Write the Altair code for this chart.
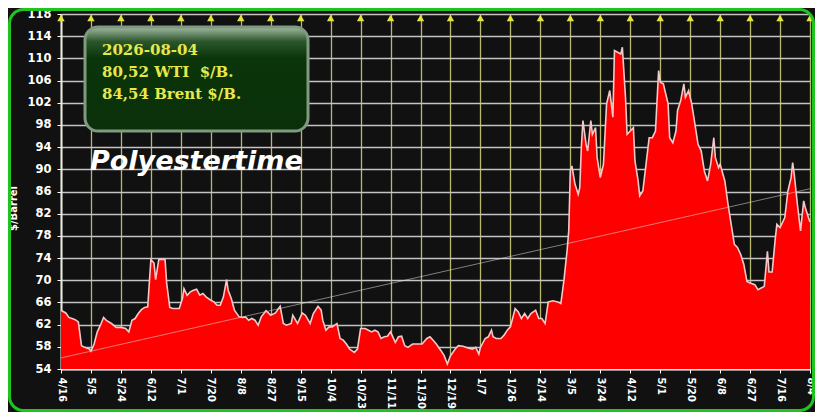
import altair as alt
import pandas as pd

# ---- data ----
start_date = "2025-04-16"
end_date = "2026-08-04"
tick_dates = ["2025-04-16", "2025-05-05", "2025-05-24", "2025-06-12", "2025-07-01",
              "2025-07-20", "2025-08-08", "2025-08-27", "2025-09-15", "2025-10-04",
              "2025-10-23", "2025-11-11", "2025-11-30", "2025-12-19", "2026-01-07",
              "2026-01-26", "2026-02-14", "2026-03-05", "2026-03-24", "2026-04-12",
              "2026-05-01", "2026-05-20", "2026-06-08", "2026-06-27", "2026-07-16",
              "2026-08-04"]
y_ticks = list(range(54, 119, 4))

day_offsets = [0, 3, 5, 7, 9, 11, 13, 15, 18, 19, 21, 23, 25, 27, 29, 32, 35, 38, 41, 43,
               45, 47, 49, 51, 53, 55, 57, 59, 60, 62, 64, 66, 67, 69, 71, 75, 77, 78, 80, 82,
               84, 86, 88, 90, 92, 95, 97, 99, 101, 103, 105, 106, 108, 110, 113, 115, 117, 119, 121, 123,
               125, 127, 130, 133, 136, 139, 141, 143, 146, 147, 150, 153, 155, 158, 160, 163, 165, 166, 168, 170,
               172, 175, 177, 179, 181, 183, 186, 188, 190, 193, 195, 197, 199, 201, 203, 205, 207, 209, 212, 214,
               216, 218, 220, 223, 226, 229, 232, 234, 236, 238, 241, 243, 245, 247, 250, 252, 255, 258, 261, 263,
               265, 266, 269, 271, 273, 274, 276, 279, 281, 283, 285, 288, 290, 292, 294, 296, 298, 301, 303, 305,
               307, 309, 312, 315, 317, 319, 321, 322, 323, 324, 326, 328, 329, 330, 331, 333, 334, 336, 337, 339,
               340, 342, 344, 346, 347, 348, 350, 351, 353, 355, 356, 358, 359, 361, 363, 364, 366, 367, 369, 371,
               373, 375, 377, 379, 380, 382, 385, 386, 388, 390, 391, 393, 395, 396, 398, 400, 402, 404, 406, 408,
               410, 412, 414, 415, 417, 418, 421, 423, 425, 427, 429, 431, 433, 435, 437, 440, 442, 444, 446, 448,
               449, 451, 453, 454, 456, 459, 461, 463, 464, 465, 467, 469, 471, 472, 474, 475]
prices = [64.6, 64.1, 63.3, 63.1, 62.9, 62.5, 58.2, 57.9, 57.6, 57.2, 58.5, 60.7, 61.9, 63.3, 62.7, 62.2, 61.5, 61.5, 61.3, 60.7,
          62.8, 63.1, 64.0, 64.7, 65.1, 65.2, 73.7, 73.1, 70.1, 73.7, 73.8, 73.7, 69.5, 65.1, 64.9, 64.9, 66.7, 68.5, 67.3, 67.9,
          68.2, 68.4, 67.3, 67.6, 67.0, 66.4, 66.1, 65.5, 65.5, 67.0, 70.1, 68.2, 66.7, 64.6, 63.4, 63.3, 63.4, 62.8, 63.1, 62.8,
          61.9, 63.4, 64.5, 63.7, 64.1, 65.3, 62.2, 61.9, 62.2, 63.7, 62.2, 64.1, 63.7, 62.2, 64.0, 65.3, 64.6, 62.8, 61.0, 61.6,
          61.6, 62.2, 59.5, 59.2, 58.5, 57.6, 57.0, 57.6, 61.3, 61.3, 61.0, 60.7, 61.0, 60.7, 59.5, 59.8, 59.9, 60.7, 58.8, 59.8,
          59.9, 58.2, 57.9, 58.5, 58.5, 58.5, 59.5, 59.8, 59.2, 58.5, 57.3, 56.4, 54.9, 56.4, 57.6, 58.2, 58.1, 57.8, 57.6, 57.9,
          56.7, 57.9, 59.5, 59.8, 61.0, 59.8, 59.5, 59.5, 60.1, 61.0, 61.6, 64.9, 64.3, 63.1, 64.0, 63.1, 64.0, 64.6, 63.1, 63.1,
          62.2, 66.1, 66.3, 66.1, 65.8, 70.1, 75.5, 78.9, 89.7, 90.6, 87.3, 85.5, 86.7, 94.0, 98.8, 94.5, 93.3, 98.8, 96.3, 97.5,
          92.1, 88.5, 90.9, 101.8, 103.0, 104.2, 99.4, 111.4, 111.1, 110.8, 112.0, 103.0, 96.3, 96.9, 97.5, 91.5, 87.9, 85.2, 86.1, 90.9,
          95.7, 95.7, 96.9, 107.8, 105.7, 105.4, 101.8, 95.7, 94.8, 96.9, 100.6, 102.4, 105.4, 103.0, 104.2, 101.8, 98.2, 94.5, 93.3, 89.7,
          87.9, 90.9, 95.7, 92.1, 90.3, 90.9, 87.9, 83.7, 80.1, 76.5, 75.9, 74.7, 72.9, 69.8, 69.5, 69.2, 68.3, 68.6, 68.9, 75.2,
          71.5, 71.5, 77.6, 80.1, 79.5, 81.3, 86.1, 88.5, 91.2, 89.1, 83.7, 78.9, 84.3, 83.1, 81.3, 80.5]

# straight trend line (value at start and at end)
trend_dates = [start_date, end_date]
trend_values = [56.0, 86.5]

info_lines = ["2026-08-04", "80,52 WTI\u00a0 $/B.", "84,54 Brent $/B."]
brand = "Polyestertime"
y_title = "$/Barrel"

# ---- tables ----
t0 = pd.Timestamp(start_date)
df = pd.DataFrame({"day": day_offsets, "price": prices})
df["date"] = [(t0 + pd.Timedelta(days=d)).strftime("%Y-%m-%d") for d in day_offsets]
trend_df = pd.DataFrame({"date": trend_dates, "price": trend_values})

def ms(s):
    return int(pd.Timestamp(s, tz="UTC").value // 10**6)

tick_ms = [ms(s) for s in tick_dates]
x_domain = [ms(start_date), ms(end_date)]

W, H = 749, 355
PAD = {"left": 53, "top": 6, "right": 5, "bottom": 43}

x_scale = alt.Scale(type="utc", domain=x_domain, nice=False)
y_scale = alt.Scale(domain=[54, 118], nice=False, zero=False)

x_axis = alt.Axis(values=tick_ms, tickCount=60, labelExpr="utcFormat(datum.value, '%-m/%-d')",
                  labelAngle=90, labelAlign="left", labelBaseline="middle",
                  labelColor="white", labelFont="DejaVu Sans", labelFontWeight="bold",
                  labelFontSize=10, labelPadding=4, labelOverlap=False, labelFlush=False,
                  tickColor="white", tickSize=4,
                  domainColor="#e8e8e8", domainWidth=2, grid=True,
                  gridColor="#b8b86a", gridWidth=1.3, title=None)
y_axis = alt.Axis(values=y_ticks, tickCount=40, labelColor="white", labelFont="DejaVu Sans",
                  labelFontWeight="bold", labelFontSize=11.5, labelPadding=6,
                  labelOverlap=False, labelFlush=False,
                  tickColor="white", tickSize=4, domainColor="#e8e8e8", domainWidth=2,
                  grid=True, gridColor="#c4c4c4", gridWidth=1.3,
                  titleColor="white", titleFont="DejaVu Sans", titleFontWeight="bold",
                  titleFontSize=10, titleX=-48, titleY=194, titleBaseline="middle", titleAngle=270)

area = alt.Chart(df).mark_area(
    color="#ff0000", line={"color": "#f2c8c8", "strokeWidth": 1.6}, opacity=1
).encode(
    x=alt.X("date:T", scale=x_scale, axis=x_axis),
    y=alt.Y("price:Q", scale=y_scale, axis=y_axis, title=y_title),
    y2=alt.datum(54),
)

trend = alt.Chart(trend_df).mark_line(color="#d8d8d8", strokeWidth=1, opacity=0.55).encode(
    x="date:T", y="price:Q"
)

tri = alt.Chart(pd.DataFrame({"t": tick_ms})).mark_point(
    shape="triangle-up", filled=True, color="#e4e43c", size=55, opacity=1
).encode(x="t:T", y=alt.value(4))

one = pd.DataFrame({"k": [0]})
box = alt.Chart(one).mark_rect(
    cornerRadius=13, stroke="#7f9a7f", strokeWidth=3,
    color=alt.Gradient(gradient="linear", x1=0, y1=0, x2=0, y2=1,
                       stops=[alt.GradientStop(offset=0, color="#a3bba3"),
                              alt.GradientStop(offset=0.14, color="#2b552b"),
                              alt.GradientStop(offset=0.3, color="#0b350b"),
                              alt.GradientStop(offset=1, color="#0a300a")])
).encode(x=alt.value(24), x2=alt.value(247), y=alt.value(13), y2=alt.value(117))

info_layers = []
for txt, yy in zip(info_lines, [36, 58, 80]):
    info_layers.append(
        alt.Chart(pd.DataFrame({"txt": [txt]})).mark_text(
            align="left", baseline="middle", font="DejaVu Serif", fontWeight="bold",
            fontSize=15, color="#e8e84a"
        ).encode(x=alt.value(41), y=alt.value(yy), text="txt:N")
    )

brand_t = alt.Chart(pd.DataFrame({"txt": [brand]})).mark_text(
    align="left", baseline="alphabetic", font="DejaVu Sans", fontWeight="bold",
    fontStyle="italic", fontSize=27, color="white"
).encode(x=alt.value(29), y=alt.value(156), text="txt:N")

border = alt.Chart(one).mark_rect(
    cornerRadius=14, stroke="#1fc41f", strokeWidth=3, fillOpacity=0
).encode(x=alt.value(-51.5), x2=alt.value(W + 3.5), y=alt.value(-4.5), y2=alt.value(H + 41.5))

chart = alt.layer(area, trend, tri, box, *info_layers, brand_t, border).properties(
    width=W, height=H, padding=PAD, autosize=alt.AutoSizeParams(type="none"),
    background="#111111"
).configure_view(fill="#111111", stroke=None)

chart.save("out.html", embed_options={"renderer": "svg", "actions": False})
